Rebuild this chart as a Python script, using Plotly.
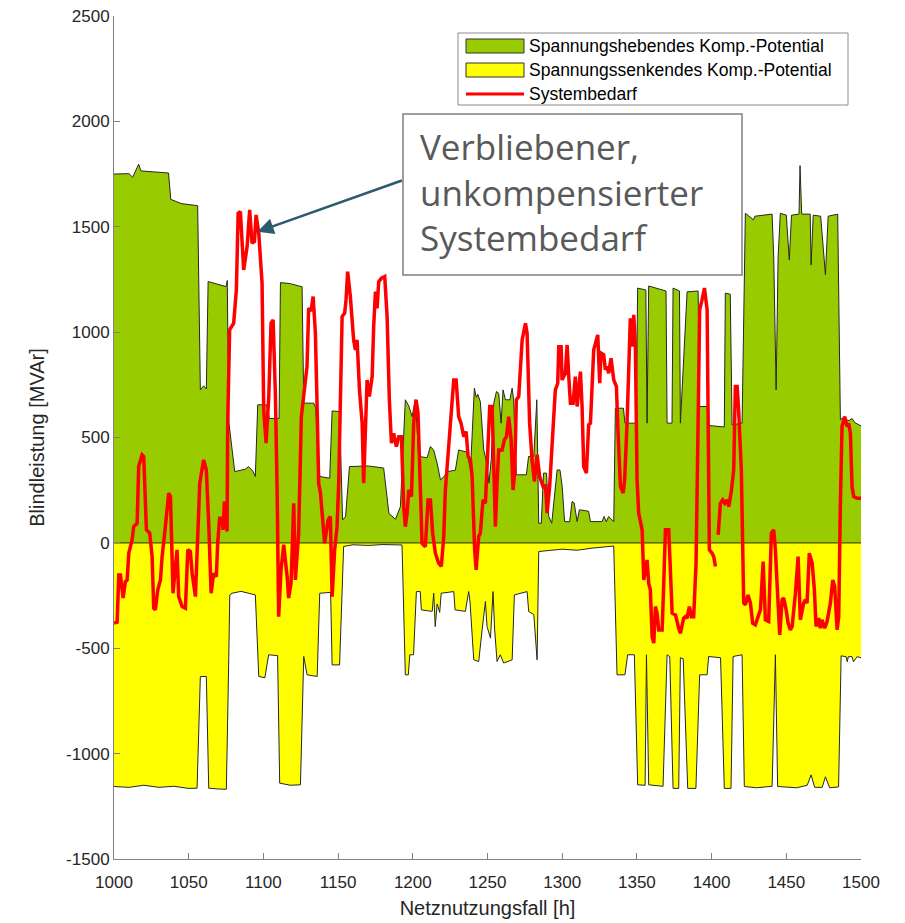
import plotly.graph_objects as go

# Spannungshebendes Kompensationspotential (MVAr) über Netznutzungsfall (h)
heb_x = [1000, 1010, 1012.5, 1015, 1016.5, 1018, 1025, 1036.5, 1038, 1045, 1056, 1057.8, 1060, 1061.8,
         1063, 1070, 1075, 1075.8, 1076.8, 1080.8, 1088, 1090, 1093, 1094.6, 1096.2, 1102, 1102.8, 1104,
         1110.5, 1111.4, 1118, 1125.9, 1127, 1133.7, 1135, 1137.7, 1144.4, 1146, 1151, 1153, 1155, 1157.6,
         1170, 1180.5, 1184, 1188.4, 1191.7, 1195, 1197.3, 1199.5, 1201.7, 1204, 1209.6, 1211.8, 1214,
         1216.3, 1218.5, 1221, 1223, 1228.5, 1230.7, 1236.3, 1238.6, 1241.2, 1242.5, 1243.5, 1245.2,
         1247.5, 1249, 1251, 1252.5, 1254.2, 1256, 1257.5, 1259.1, 1260.4, 1262, 1265, 1266.5, 1267.5,
         1269.3, 1276, 1277.5, 1281, 1283, 1284.3, 1286, 1287.5, 1289.5, 1291, 1293, 1296.6, 1298.5,
         1300, 1301.6, 1305, 1306.6, 1308, 1310, 1311.5, 1317.7, 1318.9, 1326.7, 1328, 1329.5, 1331.1,
         1334.5, 1335.6, 1341, 1342, 1349.5, 1350.5, 1356, 1356.8, 1357.9, 1369.5, 1370.2, 1373.5,
         1374.2, 1378.5, 1379.1, 1383.6, 1391, 1392, 1397, 1398, 1408.5, 1409.2, 1412.5, 1413.7, 1420.4,
         1422.6, 1427, 1428, 1429, 1440.5, 1441.6, 1443.2, 1444.5, 1446, 1450, 1452, 1453.5, 1458.5,
         1459.2, 1460.3, 1466, 1466.6, 1468, 1473, 1476.2, 1478, 1484.4, 1486.2, 1489, 1490, 1492, 1494,
         1496, 1498.4, 1500]
heb_y = [1750, 1752, 1735, 1770, 1797, 1765, 1760, 1755, 1630, 1610, 1600, 726, 745, 730,
         1240, 1225, 1216, 1245, 576, 338, 350, 362, 340, 315, 655, 655, 640, 590,
         590, 1235, 1230, 1215, 663, 663, 640, 315, 307, 626, 623, 109, 125, 362,
         365, 355, 140, 112, 172, 679, 650, 599, 679, 410, 404, 457, 440,
         378, 299, 315, 338, 345, 441, 430, 346, 734, 690, 705, 670,
         441, 394, 283, 394, 663, 718, 710, 568, 726, 679, 679, 734, 679,
         323, 323, 410, 410, 679, 93, 93, 331, 331, 125, 93, 346, 346,
         267, 101, 100, 196, 190, 101, 157, 150, 101, 101, 125, 101, 125,
         101, 639, 639, 568, 568, 1209, 1200, 568, 1219, 1195, 568, 568,
         1209, 1195, 568, 1191, 1195, 647, 647, 557, 550, 1185, 1180, 560, 568,
         1564, 1540, 1533, 1550, 1560, 1351, 726, 1351, 1564, 1555, 1343, 1555, 1560,
         1790, 1560, 1560, 1319, 1555, 1550, 1272, 1550, 1560, 584, 599, 584, 580, 590,
         570, 560, 555]

# Spannungssenkendes Kompensationspotential (MVAr)
senk_x = [1000, 1010, 1020, 1030, 1040, 1050, 1055.6, 1057.8, 1061.8, 1063.4, 1070, 1075.2, 1076.8,
          1077.5, 1079, 1085, 1094.6, 1096.9, 1101, 1103.5, 1109.5, 1110.9, 1118, 1124.8, 1127, 1129.2,
          1136, 1137.7, 1145, 1146, 1151, 1153.7, 1160, 1170, 1180, 1192.8, 1195, 1197, 1198, 1200.5,
          1202.4, 1205, 1205.7, 1213, 1214, 1215, 1216.3, 1218, 1219, 1227.4, 1228.3, 1235.2, 1237.4,
          1238.3, 1240.8, 1244.1, 1246.4, 1248.6, 1249.7, 1252, 1253.7, 1254.8, 1256.4, 1258.6, 1260.8,
          1266.5, 1268, 1276.5, 1277.6, 1281, 1283.2, 1284.3, 1300, 1310, 1320, 1334.5, 1336.7, 1342,
          1343.8, 1348.3, 1350.5, 1355.5, 1356.4, 1357.9, 1367.5, 1370.2, 1372, 1374.2, 1378, 1379.1,
          1381, 1384, 1389.5, 1392, 1397, 1398, 1406, 1408.5, 1413, 1414.4, 1420.4, 1421.9, 1430,
          1440.5, 1442.7, 1444.2, 1457, 1464, 1466.6, 1469, 1474, 1476.2, 1479, 1485, 1486.7, 1490,
          1490.8, 1491.5, 1494, 1495, 1497.4, 1500]
senk_y = [-1156, -1160, -1150, -1160, -1155, -1165, -1164, -634, -634, -1164, -1168, -1169, -555,
          -247, -239, -230, -247, -634, -640, -531, -535, -1140, -1150, -1148, -539, -626,
          -634, -239, -235, -579, -579, -17, -9, -12, -8, -10, -626, -626, -531, -531,
          -231, -231, -318, -325, -239, -397, -290, -330, -239, -231, -318, -325, -231,
          -280, -555, -563, -413, -278, -397, -452, -231, -413, -563, -531, -570,
          -555, -247, -231, -326, -340, -555, -41, -30, -35, -25, -15, -626, -626,
          -531, -531, -1148, -1150, -531, -1148, -1155, -531, -540, -1165, -1165, -545,
          -550, -1165, -1165, -626, -626, -539, -545, -1165, -1165, -539, -531, -1156, -1162,
          -1155, -531, -1156, -1162, -1150, -1101, -1160, -1160, -1110, -1162, -1158, -536, -540,
          -564, -540, -540, -564, -540, -545]

# Systembedarf (MVAr); None markiert eine Datenlücke
bedarf_x = [1000, 1002.1, 1003.2, 1004.3, 1006.1, 1007.6, 1008.8, 1009.9, 1012.1, 1013.2, 1015.5,
            1016.5, 1018.8, 1019.9, 1021.7, 1023.9, 1025.5, 1026.6, 1027.7, 1029.3, 1031.1, 1032.2,
            1034.4, 1036.6, 1037.8, 1039.5, 1040.7, 1042.2, 1043.3, 1045.6, 1047.8, 1049.4, 1051.1,
            1052.3, 1054.5, 1056, 1057.4, 1060, 1061.8, 1063.4, 1065, 1066.7, 1068.5, 1069.4, 1070.7,
            1072.4, 1073, 1073.9, 1075.7, 1076.1, 1077.4, 1080.1, 1081.9, 1083.1, 1084.6, 1086.8,
            1089.1, 1090.8, 1092.4, 1094, 1095.1, 1096.9, 1099.1, 1100.2, 1101.8, 1103.6, 1105.1,
            1106.5, 1108, 1109.2, 1110.2, 1111.8, 1113.6, 1115.9, 1116.9, 1118.5, 1120.3,
            1121.4, 1123.6, 1125.4, 1127, 1129.2, 1130.3, 1131.9, 1133.3, 1134.8, 1135.9, 1137,
            1138.2, 1139.3, 1141, 1143.3, 1144.8, 1146, 1147.7, 1149.3, 1150.4, 1152.7, 1154.4,
            1155.3, 1156.4, 1158.2, 1160.4, 1161.6, 1162.7, 1164.3, 1166.1, 1167.1, 1168.3, 1169.4,
            1170.9, 1172.8, 1173.8, 1175, 1176.1, 1177.2, 1179, 1181.2, 1182.8, 1184.3, 1185.7,
            1187.2, 1189, 1190.6, 1192.4, 1193.9, 1195, 1196.2, 1197.3, 1199.1, 1200.6, 1202.2,
            1203.5, 1205.1, 1206.2, 1208.4, 1210.2, 1211.8, 1213.3, 1215.1, 1217.3, 1219.1, 1220.7,
            1221.8, 1224, 1225.8, 1227.4, 1229, 1230.7, 1232.3, 1234.1, 1235.7, 1237, 1238.6, 1239.7,
            1241.4, 1242.4, 1244.1, 1245.2, 1247, 1248.6, 1249.7, 1251.5, 1253.1, 1254.2, 1255.3,
            1256.4, 1257.5, 1259.8, 1261.3, 1262.7, 1264.2, 1265.8, 1267.1, 1268.2, 1269.3, 1270.9,
            1272, 1273.2, 1275.4, 1276.5, 1278.2, 1279.8, 1281.4, 1283.2, 1284.9, 1287.2, 1288.8,
            1289.9, 1291.6, 1292.6, 1293.9, 1295.4, 1297, 1297.7, 1299.3, 1299.9, 1302.1, 1303.3,
            1304.4, 1305.5, 1307.3, 1308.8, 1310, 1312.2, 1313.3, 1314.4, 1316.2, 1317.7, 1318.9,
            1321.1, 1323.8, 1325.1, 1326, 1327.8, 1328.9, 1330, 1331.1, 1332.7, 1334.5, 1336.3,
            1337.2, 1339, 1340.8, 1341.8, 1343.4, 1344.5, 1345.6, 1346.8, 1347.9, 1349, 1350.1,
            1351.2, 1353.5, 1354.6, 1356.8, 1357.9, 1359, 1360.2, 1361.3, 1362.4, 1363.5, 1364.6,
            1366.9, 1367.9, 1369.1, 1371.3, 1372.4, 1373.6, 1375.8, 1376.9, 1378, 1379.1, 1381.3,
            1382.5, 1383.6, 1385.1, 1386.5, 1388, 1389.6, 1391, 1392, 1393.6, 1395.2, 1397, 1397.4,
            1398.5, 1400.3, 1401.4, 1402.6, 1403.5, 1404.4, 1405.9, 1407.4, 1408.8, 1410.4, 1411.5,
            1413.3, 1414.8, 1415.9, 1417.1, 1418.1, 1419.9, 1421.5, 1422.6, 1424.4, 1426, 1427.5,
            1429.3, 1431.1, 1432.7, 1434.5, 1436, 1438.2, 1440, 1441.6, 1442.7, 1444.5, 1445.6,
            1447.2, 1448.3, 1449.9, 1451.2, 1452.7, 1453.9, 1456.1, 1457.9, 1459.4, 1461.6, 1462.8,
            1463.9, 1465.4, 1467.3, 1468.8, 1469.9, 1471.7, 1472.8, 1473.9, 1475.7, 1477.3, 1479.5,
            1481.1, 1482.4, 1484, 1485.1, 1486.2, 1487.3, 1489.1, 1490.7, 1491.8, 1492.9, 1494,
            1495.1, 1497.4, 1500]
bedarf_y = [-381, -376, -152, -152, -262, -184, -176, -49, 14, 77, 93,
            362, 418, 410, 62, 47, -65, -310, -318, -223, -176, -65,
            77, 236, 220, -239, -144, -33, -255, -302, -310, -33, -41,
            -144, -255, 14, 283, 394, 346, 93, -239, -144, -160, -2, 117,
            117, 62, 196, 54, 568, 1011, 1042, 1200, 1564, 1572, 1295,
            1406, 1580, 1422, 1430, 1556, 1469, 1232, 631, 473, 694, 1042,
            1058, 710, 251, -350, -128, -9, -160, -262, -191, 188,
            -176, 46, 599, 710, 837, 1114, 1100, 1169, 995, 663, 283,
            236, 125, -2, 109, 125, -255, -33, 77, 283, 1074, 1090,
            1153, 1287, 1169, 963, 916, 963, 726, 568, 283, 504, 773,
            694, 789, 1026, 1192, 1113, 1240, 1256, 1264, 1074, 679, 473,
            520, 457, 504, 504, 172, 77, 141, 251, 220, 568, 679,
            615, 299, -2, -18, 204, 204, 46, -49, -96, -112, 30,
            251, 441, 599, 773, 773, 599, 568, 504, 528, 410, 394, 315,
            -33, -128, 30, 46, 204, 188, 362, 647, 647, 283, 77,
            283, 441, 441, 489, 504, 599, 489, 251, 331, 679, 694,
            837, 963, 1042, 995, 568, 394, 291, 418, 315, 267, 275,
            141, 267, 394, 599, 726, 757, 931, 931, 773, 805, 939,
            789, 663, 663, 789, 647, 813, 647, 362, 331, 560, 568,
            916, 987, 758, 900, 892, 821, 837, 805, 876, 773, 742,
            552, 267, 236, 299, 568, 868, 1066, 931, 1082, 931, 299,
            141, 62, -176, -81, -191, -223, -445, -476, -302, -334, -413,
            -413, -207, 62, 62, -128, -334, -342, -381, -405, -429, -357,
            -350, -357, -302, -350, -350, -96, 584, 1106, 1153, 1209, 1106, 663,
            -33, -49, -65, -112, None, 38, 188, 204, 188, 204, 172,
            251, 346, 742, 742, 631, 346, -286, -294, -247, -286, -381,
            -389, -350, -318, -89, -365, -373, 46, 62, -33, -286, -437,
            -270, -262, -318, -381, -413, -397, -239, -65, -365, -286, -270,
            -286, -49, -96, -223, -397, -357, -405, -365, -405, -373, -286,
            -176, -207, -413, -350, 188, 552, 599, 552, 568, 520, 267,
            220, 212, 212]

x_ticks = list(range(1000, 1501, 50))
y_ticks = list(range(-1500, 2501, 500))
y_tick_labels = [str(v) for v in y_ticks]

legend_labels = ["Spannungshebendes Komp.-Potential",
                 "Spannungssenkendes Komp.-Potential",
                 "Systembedarf"]

GREEN = "#99CC00"
YELLOW = "#FFFF00"
RED = "#FF0000"
EDGE = "#262626"
AXIS = "#808080"
TXT = "#262626"
FONT = "Arial, Liberation Sans, sans-serif"

# Plotfläche in Pixeln (für die Platzierung von Legende und Textkasten)
W, H = 905, 923
ML, MR, MT, MB = 114, 44, 16, 64
PW, PH = W - ML - MR, H - MT - MB


def px(xp):
    return (xp - ML) / PW


def py(yp):
    return (H - MB - yp) / PH


fig = go.Figure()

fig.add_trace(go.Scatter(
    x=heb_x, y=heb_y, mode="lines", fill="tozeroy", fillcolor=GREEN,
    line=dict(color=EDGE, width=1), name=legend_labels[0], showlegend=False))
fig.add_trace(go.Scatter(
    x=senk_x, y=senk_y, mode="lines", fill="tozeroy", fillcolor=YELLOW,
    line=dict(color=EDGE, width=1), name=legend_labels[1], showlegend=False))
# Grundlinie der Flächen bei 0
fig.add_trace(go.Scatter(
    x=[min(heb_x), max(heb_x)], y=[0, 0], mode="lines",
    line=dict(color="#4a5200", width=1.2), showlegend=False, hoverinfo="skip"))
fig.add_trace(go.Scatter(
    x=bedarf_x, y=bedarf_y, mode="lines", connectgaps=False,
    line=dict(color=RED, width=3.5), name=legend_labels[2], showlegend=False))

axis_common = dict(
    showgrid=False, zeroline=False, showline=True, linecolor=AXIS, linewidth=1,
    ticks="inside", ticklen=6, tickcolor=AXIS, tickwidth=1, automargin=False,
    tickfont=dict(family=FONT, size=17, color=TXT), mirror=False,
)

fig.update_layout(
    width=W, height=H,
    margin=dict(l=ML, r=MR, t=MT, b=MB),
    paper_bgcolor="white", plot_bgcolor="white",
    font=dict(family=FONT, color=TXT),
    showlegend=False,
    xaxis=dict(range=[1000, 1500], tickvals=x_ticks, ticklabelstandoff=8,
               title=dict(text="Netznutzungsfall [h]", font=dict(family=FONT, size=20, color=TXT),
                          standoff=9),
               **axis_common),
    yaxis=dict(range=[-1500, 2500], tickvals=y_ticks, ticktext=y_tick_labels,
               title=dict(text="Blindleistung [MVAr]", font=dict(family=FONT, size=20, color=TXT),
                          standoff=16),
               **axis_common),
)

# Legende: Rahmen, Flächen-/Liniensymbole und Beschriftung
fig.add_shape(type="rect", xref="paper", yref="paper",
              x0=px(458), x1=px(848), y0=py(105), y1=py(33),
              line=dict(color="#8c8c8c", width=1), fillcolor="white", layer="above")
rows = [46, 70, 94]
for (yc, col) in zip(rows[:2], [GREEN, YELLOW]):
    fig.add_shape(type="rect", xref="paper", yref="paper",
                  x0=px(466), x1=px(524), y0=py(yc + 7), y1=py(yc - 7),
                  line=dict(color="#333333", width=1), fillcolor=col, layer="above")
fig.add_shape(type="line", xref="paper", yref="paper",
              x0=px(466), x1=px(524), y0=py(rows[2]), y1=py(rows[2]),
              line=dict(color=RED, width=3), layer="above")
for yc, lab in zip(rows, legend_labels):
    fig.add_annotation(xref="paper", yref="paper", x=px(527), y=py(yc),
                       xanchor="left", yanchor="middle", text=lab, showarrow=False,
                       font=dict(family=FONT, size=17.5, color="#000000"))

# Textkasten mit Hinweis auf den unkompensierten Restbedarf
fig.add_shape(type="rect", xref="paper", yref="paper",
              x0=px(403), x1=px(742), y0=py(275), y1=py(114),
              line=dict(color="#7f7f7f", width=1.5), fillcolor="white", layer="above")
fig.add_annotation(
    xref="paper", yref="paper", x=px(418), y=py(192), xanchor="left", yanchor="middle",
    align="left", text="Verbliebener,<br>unkompensierter<br>Systembedarf", showarrow=False,
    font=dict(family="Open Sans, sans-serif", size=35, color="#595959"))
fig.add_annotation(
    xref="x", yref="y", axref="x", ayref="y",
    x=1096, y=1476, ax=1193.7, ay=1722, text="", showarrow=True,
    arrowhead=2, arrowsize=1.3, arrowwidth=2.5, arrowcolor="#2E5A6E")

fig.write_html("out.html")
